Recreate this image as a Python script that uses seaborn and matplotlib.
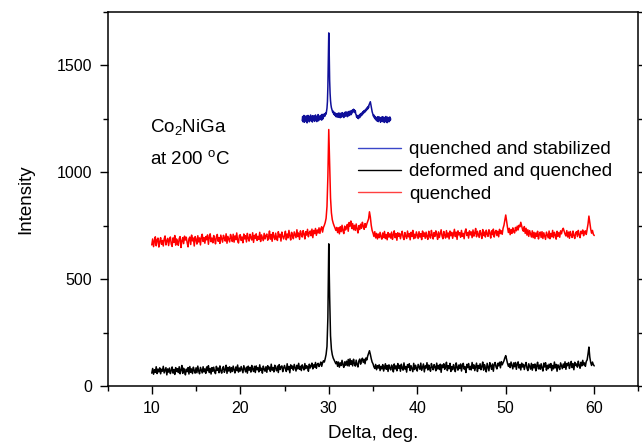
import numpy as np
import pandas as pd
import matplotlib
matplotlib.use("Agg")
import matplotlib.pyplot as plt
from matplotlib.ticker import MultipleLocator
from matplotlib.lines import Line2D
import seaborn as sns

# ---------------- data ----------------
x_start, x_stop = 10.0, 60.0          # scan range of red / black patterns (step 0.1)
blue_start, blue_stop = 27.0, 37.0    # scan range of blue pattern (step 0.05)

deformed_quenched = [
    60, 82, 55, 76, 64, 90, 58, 79, 66, 85,
    57, 78, 69, 92, 61, 74, 86, 52, 80, 65,
    84, 58, 72, 89, 60, 77, 54, 86, 68, 81,
    63, 90, 57, 75, 96, 59, 83, 70, 52, 79,
    67, 86, 56, 91, 64, 80, 58, 88, 72, 60,
    85, 62, 93, 70, 57, 87, 74, 61, 90, 66,
    80, 59, 89, 72, 95, 63, 82, 56, 86, 69,
    88, 66, 58, 92, 73, 84, 62, 94, 71, 60,
    82, 91, 64, 76, 97, 59, 87, 70, 90, 63,
    86, 68, 93, 75, 61, 89, 72, 98, 65, 84,
    70, 91, 76, 62, 95, 80, 66, 88, 60, 93,
    74, 87, 65, 96, 79, 68, 92, 63, 94, 76,
    85, 66, 99, 73, 83, 60, 93, 78, 69, 90,
    64, 95, 79, 88, 68, 102, 74, 86, 66, 97,
    82, 71, 93, 63, 100, 77, 89, 94, 67, 84,
    96, 80, 68, 104, 76, 91, 62, 99, 83, 93,
    74, 101, 85, 70, 97, 80, 106, 78, 92, 72,
    99, 86, 75, 105, 81, 95, 90, 69, 102, 84,
    94, 107, 80, 99, 88, 110, 83, 101, 106, 91,
    100, 112, 92, 108, 118, 112, 128, 148, 185, 320,
    665, 420, 235, 172, 146, 131, 122, 114, 104, 114,
    92, 112, 88, 108, 96, 120, 99, 87, 113, 97,
    116, 95, 124, 93, 127, 101, 118, 94, 125, 104,
    93, 121, 100, 89, 117, 126, 102, 119, 130, 110,
    125, 104, 131, 122, 140, 152, 165, 148, 128, 112,
    104, 90, 82, 101, 76, 95, 84, 99, 72, 92,
    80, 100, 70, 88, 104, 78, 96, 68, 99, 85,
    75, 98, 86, 66, 103, 80, 94, 71, 105, 83,
    96, 69, 102, 84, 74, 108, 79, 91, 65, 100,
    87, 104, 72, 95, 81, 67, 106, 77, 97, 85,
    70, 101, 90, 78, 107, 73, 89, 103, 66, 94,
    84, 109, 75, 98, 82, 69, 105, 88, 76, 100,
    90, 71, 107, 80, 96, 77, 102, 64, 99, 86,
    104, 78, 89, 111, 72, 95, 81, 106, 68, 91,
    76, 100, 85, 67, 108, 88, 74, 98, 82, 103,
    70, 95, 106, 79, 90, 63, 101, 86, 105, 77,
    92, 75, 110, 83, 99, 72, 89, 107, 68, 96,
    82, 104, 76, 91, 112, 74, 100, 86, 66, 106,
    88, 71, 109, 95, 78, 103, 69, 101, 110, 90,
    80, 106, 94, 111, 85, 114, 99, 108, 118, 132,
    142, 124, 106, 92, 104, 86, 112, 95, 80, 108,
    90, 110, 78, 102, 113, 84, 100, 75, 107, 89,
    101, 77, 97, 110, 83, 72, 104, 91, 79, 106,
    74, 100, 85, 103, 71, 94, 111, 80, 98, 78,
    104, 84, 70, 107, 89, 109, 74, 97, 81, 102,
    86, 105, 72, 96, 80, 112, 85, 101, 69, 99,
    91, 77, 108, 94, 81, 103, 87, 113, 78, 105,
    95, 110, 82, 100, 115, 86, 104, 76, 111, 96,
    103, 88, 116, 97, 83, 111, 94, 120, 99, 108,
    92, 115, 122, 150, 182, 135, 110, 96, 112, 100,
    94,
]

quenched = [
    660, 688, 652, 679, 698, 656, 684, 692, 650, 676,
    694, 663, 681, 655, 688, 702, 660, 680, 691, 657,
    684, 697, 664, 653, 693, 672, 704, 659, 688, 676,
    658, 690, 699, 648, 678, 694, 666, 701, 683, 696,
    670, 651, 689, 697, 662, 706, 679, 692, 655, 699,
    686, 664, 703, 674, 693, 660, 697, 710, 676, 694,
    668, 699, 684, 707, 663, 696, 712, 675, 692, 670,
    704, 688, 665, 698, 709, 677, 694, 667, 706, 690,
    673, 705, 693, 678, 712, 668, 700, 687, 674, 709,
    694, 676, 710, 673, 702, 685, 716, 680, 669, 704,
    708, 681, 697, 670, 711, 688, 703, 674, 714, 691,
    678, 710, 694, 683, 717, 672, 705, 690, 712, 681,
    700, 686, 719, 676, 707, 693, 680, 714, 688, 704,
    711, 682, 698, 725, 687, 709, 677, 718, 699, 685,
    715, 692, 681, 722, 697, 710, 678, 720, 701, 688,
    704, 724, 684, 711, 693, 728, 702, 683, 719, 705,
    689, 721, 707, 694, 731, 699, 716, 686, 726, 709,
    697, 727, 712, 688, 722, 706, 733, 698, 717, 725,
    703, 734, 694, 728, 713, 737, 705, 730, 716, 740,
    714, 735, 745, 720, 742, 752, 765, 785, 840, 980,
    1200, 1030, 880, 810, 778, 762, 750, 740, 728, 742,
    718, 740, 712, 745, 722, 752, 726, 713, 748, 730,
    741, 756, 724, 765, 748, 772, 737, 760, 731, 752,
    728, 758, 735, 716, 750, 732, 757, 738, 766, 748,
    733, 760, 742, 758, 770, 782, 815, 790, 752, 728,
    716, 700, 722, 693, 714, 688, 711, 694, 719, 698,
    687, 716, 695, 723, 690, 709, 684, 718, 697, 712,
    692, 720, 686, 708, 726, 694, 713, 682, 717, 700,
    714, 689, 709, 724, 696, 685, 718, 702, 690, 725,
    698, 713, 684, 719, 700, 728, 689, 710, 693, 721,
    706, 690, 722, 697, 713, 685, 725, 700, 716, 691,
    720, 698, 686, 724, 703, 692, 728, 706, 688, 718,
    700, 726, 710, 686, 721, 695, 714, 731, 702, 689,
    723, 705, 692, 727, 697, 716, 688, 725, 703, 719,
    691, 712, 733, 699, 720, 686, 726, 707, 717, 696,
    728, 700, 714, 689, 723, 735, 704, 718, 692, 726,
    707, 721, 694, 730, 701, 715, 737, 698, 724, 709,
    695, 727, 712, 690, 732, 704, 720, 697, 729, 711,
    700, 731, 716, 692, 726, 708, 734, 697, 720, 728,
    704, 724, 698, 733, 713, 726, 710, 738, 752, 775,
    800, 770, 742, 718, 738, 708, 732, 714, 740, 722,
    716, 742, 726, 748, 730, 752, 745, 766, 750, 732,
    724, 746, 714, 738, 706, 731, 700, 727, 711, 697,
    726, 694, 719, 690, 716, 700, 724, 688, 711, 720,
    695, 722, 690, 717, 701, 686, 720, 706, 693, 725,
    689, 714, 698, 728, 694, 719, 707, 687, 724, 700,
    718, 696, 726, 712, 730, 738, 725, 711, 702, 727,
    697, 720, 691, 723, 706, 695, 725, 704, 690, 717,
    722, 699, 728, 708, 694, 724, 713, 730, 703, 721,
    726, 709, 735, 758, 795, 765, 735, 715, 728, 710,
    704,
]

quenched_stabilized = [
    1242, 1261, 1236, 1255, 1266, 1234, 1252, 1260, 1240, 1264,
    1246, 1231, 1257, 1266, 1243, 1254, 1236, 1261, 1248, 1268,
    1240, 1259, 1250, 1235, 1265, 1255, 1244, 1262, 1238, 1260,
    1268, 1245, 1254, 1237, 1263, 1250, 1270, 1241, 1260, 1253,
    1264, 1247, 1266, 1256, 1244, 1271, 1259, 1250, 1269, 1260,
    1274, 1262, 1270, 1278, 1272, 1288, 1300, 1330, 1400, 1520,
    1652, 1560, 1430, 1370, 1335, 1315, 1302, 1294, 1288, 1280,
    1286, 1273, 1281, 1268, 1278, 1264, 1275, 1259, 1272, 1263,
    1275, 1257, 1270, 1278, 1260, 1273, 1255, 1268, 1277, 1258,
    1272, 1279, 1261, 1274, 1256, 1270, 1280, 1262, 1275, 1283,
    1266, 1278, 1260, 1282, 1270, 1264, 1285, 1273, 1268, 1287,
    1276, 1270, 1289, 1278, 1291, 1282, 1295, 1284, 1292, 1279,
    1288, 1273, 1268, 1258, 1266, 1254, 1264, 1251, 1261, 1268,
    1256, 1272, 1262, 1275, 1266, 1278, 1270, 1283, 1275, 1287,
    1279, 1289, 1282, 1293, 1287, 1298, 1292, 1303, 1296, 1308,
    1302, 1315, 1320, 1326, 1330, 1318, 1305, 1295, 1284, 1276,
    1270, 1262, 1268, 1255, 1262, 1249, 1258, 1244, 1256, 1240,
    1253, 1260, 1237, 1251, 1259, 1243, 1255, 1234, 1249, 1258,
    1240, 1252, 1260, 1236, 1248, 1257, 1233, 1254, 1245, 1261,
    1238, 1251, 1232, 1258, 1246, 1255, 1236, 1250, 1259, 1242,
    1250,
]

series_names = ["quenched and stabilized", "deformed and quenched", "quenched"]
series_colors = ["#10109a", "#000000", "#ff0000"]
legend_colors = ["#3a46c8", "#000000", "#ff4040"]

# ---------------- build long table ----------------
frames = []
for name, vals, a, b in [
    (series_names[0], quenched_stabilized, blue_start, blue_stop),
    (series_names[1], deformed_quenched, x_start, x_stop),
    (series_names[2], quenched, x_start, x_stop),
]:
    xx = np.linspace(a, b, len(vals))
    frames.append(pd.DataFrame({"delta": xx, "intensity": vals, "sample": name}))
df = pd.concat(frames, ignore_index=True)

# ---------------- style ----------------
sns.set_style("ticks")
plt.rcParams["font.family"] = ["Liberation Sans", "DejaVu Sans"]
plt.rcParams["mathtext.fontset"] = "custom"
plt.rcParams["mathtext.rm"] = "Liberation Sans"
plt.rcParams["mathtext.it"] = "Liberation Sans:italic"
plt.rcParams["mathtext.bf"] = "Liberation Sans:bold"
plt.rcParams["text.color"] = "black"
plt.rcParams["axes.labelcolor"] = "black"
plt.rcParams["xtick.color"] = "black"
plt.rcParams["ytick.color"] = "black"

fig = plt.figure(figsize=(6.42, 4.47), dpi=100)
ax = fig.add_axes([0.1675, 0.1365, 0.827, 0.8367])

sns.lineplot(data=df, x="delta", y="intensity", hue="sample",
             hue_order=series_names, palette=dict(zip(series_names, series_colors)),
             estimator=None, sort=False, linewidth=1.1, ax=ax, legend=False)

ax.set_xlim(5, 65)
ax.set_ylim(0, 1750)
ax.xaxis.set_major_locator(MultipleLocator(10))
ax.xaxis.set_minor_locator(MultipleLocator(5))
ax.yaxis.set_major_locator(MultipleLocator(500))
ax.yaxis.set_minor_locator(MultipleLocator(250))

for s in ax.spines.values():
    s.set_visible(True)
    s.set_linewidth(1.1)
    s.set_color("black")

ax.tick_params(axis="both", which="major", direction="out", length=6, width=1.0,
               labelsize=11.5, pad=5, colors="black")
ax.tick_params(axis="both", which="minor", direction="out", length=3.5, width=1.0)
ax.tick_params(axis="y", which="both", right=True)

ax.set_xlabel("Delta, deg.", fontsize=13.5, labelpad=6)
ax.set_ylabel("Intensity", fontsize=13.5, labelpad=16)

# legend
handles = [Line2D([], [], color=c, linewidth=1.0) for c in legend_colors]
ax.legend(handles, series_names, loc="upper left", bbox_to_anchor=(0.471, 0.655),
          frameon=False, fontsize=13.5, handlelength=2.3, handletextpad=0.45,
          labelspacing=0.27, borderpad=0, borderaxespad=0)

ax.text(9.8, 1187, r"Co$_2$NiGa", fontsize=13.5, va="baseline", ha="left")
ax.text(9.8, 1037, r"at 200 $^{\mathrm{o}}$C", fontsize=13.5, va="baseline", ha="left")

fig.savefig("out.png", dpi=100)
